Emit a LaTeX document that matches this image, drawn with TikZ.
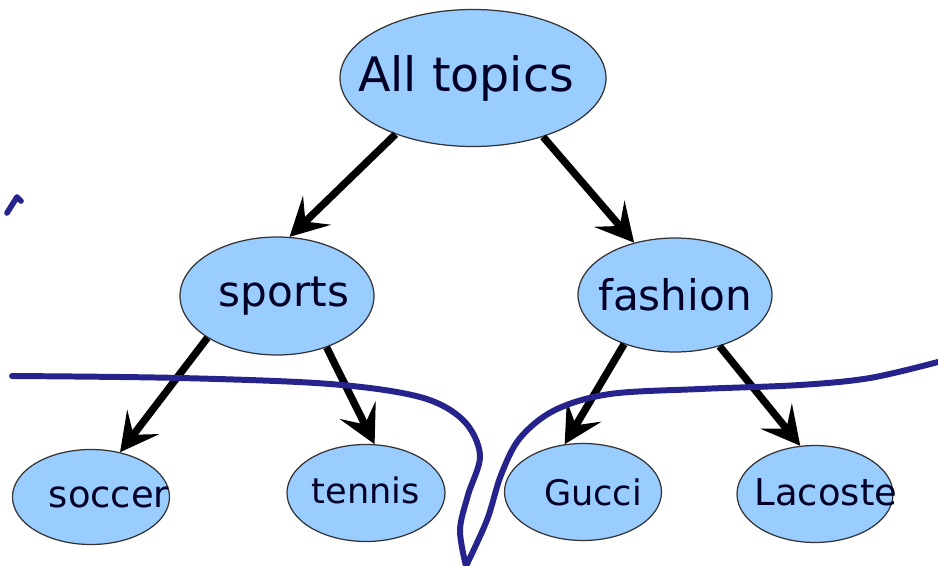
\documentclass[tikz,border=0pt]{standalone}
\usepackage{fontspec}
\setmainfont{DejaVu Sans}
\usetikzlibrary{shapes.geometric,arrows.meta}
\definecolor{topicfill}{RGB}{153,204,255}
\definecolor{cutblue}{RGB}{38,36,140}
\newcommand{\lbl}[2][0pt]{\makebox[0pt]{\hspace*{#1}#2}}
\begin{document}
\begin{tikzpicture}[
    topic/.style={ellipse, draw=black!80, line width=0.7pt, fill=topicfill, inner sep=0pt, text=black!85!blue},
    edge/.style={line width=4.2pt, -{Stealth[length=0.76cm, width=0.8cm, inset=0.32cm]}},
    cut/.style={cutblue, line width=3.4pt, line cap=round}
]
\useasboundingbox (0,0) rectangle (18.76,-11.32);

\node[topic, minimum width=5.32cm, minimum height=2.74cm, font=\fontsize{27}{30}\selectfont] (all) at (9.46,-1.56) {\lbl[-0.28cm]{All topics}};
\node[topic, minimum width=3.88cm, minimum height=2.36cm, font=\fontsize{24}{28}\selectfont] (sports) at (5.54,-5.92) {\lbl[0.28cm]{sports}};
\node[topic, minimum width=3.88cm, minimum height=2.28cm, font=\fontsize{24}{28}\selectfont] (fashion) at (13.5,-5.9) {\lbl{fashion}};

\node[topic, minimum width=3.14cm, minimum height=1.9cm, font=\fontsize{21}{24}\selectfont] (soccer) at (1.82,-9.94) {\lbl[0.72cm]{soccer}};
\node[topic, minimum width=3.16cm, minimum height=1.94cm, font=\fontsize{20}{24}\selectfont] (tennis) at (7.32,-9.86) {\raisebox{0.1cm}{\lbl{tennis}}};
\node[topic, minimum width=3.14cm, minimum height=1.94cm, font=\fontsize{20}{24}\selectfont] (gucci) at (11.66,-9.84) {\lbl[0.4cm]{Gucci}};
\node[topic, minimum width=3.12cm, minimum height=1.94cm, font=\fontsize{21}{24}\selectfont] (lacoste) at (16.3,-9.88) {\raisebox{0.06cm}{\lbl[0.44cm]{Lacoste}}};

\foreach \from/\fa/\to/\ta in {all/216/sports/78, all/320/fashion/128, sports/211/soccer/57, sports/314/tennis/80, fashion/224/gucci/111, fashion/311/lacoste/107}
    {
        \draw[edge] (\from.\fa) -- (\to.\ta);
    }

% cut lines
\draw[cut] plot[smooth, tension=0.55] coordinates {(0.24,-7.52) (3.6,-7.56) (6.6,-7.68) (8.4,-7.94) (9.26,-8.4) (9.6,-9.1) (9.36,-9.9) (9.2,-10.6) (9.32,-11.32)};
\draw[cut] plot[smooth, tension=0.55] coordinates {(9.32,-11.32) (9.74,-10.4) (10.02,-9.5) (10.4,-8.76) (11.1,-8.2) (12.2,-7.88) (14.0,-7.78) (16.0,-7.7) (17.4,-7.56) (18.76,-7.24)};
\draw[cut, line width=3.2pt, line join=round] (0.14,-4.26) -- (0.34,-3.94) -- (0.42,-4.02);
\end{tikzpicture}
\end{document}
